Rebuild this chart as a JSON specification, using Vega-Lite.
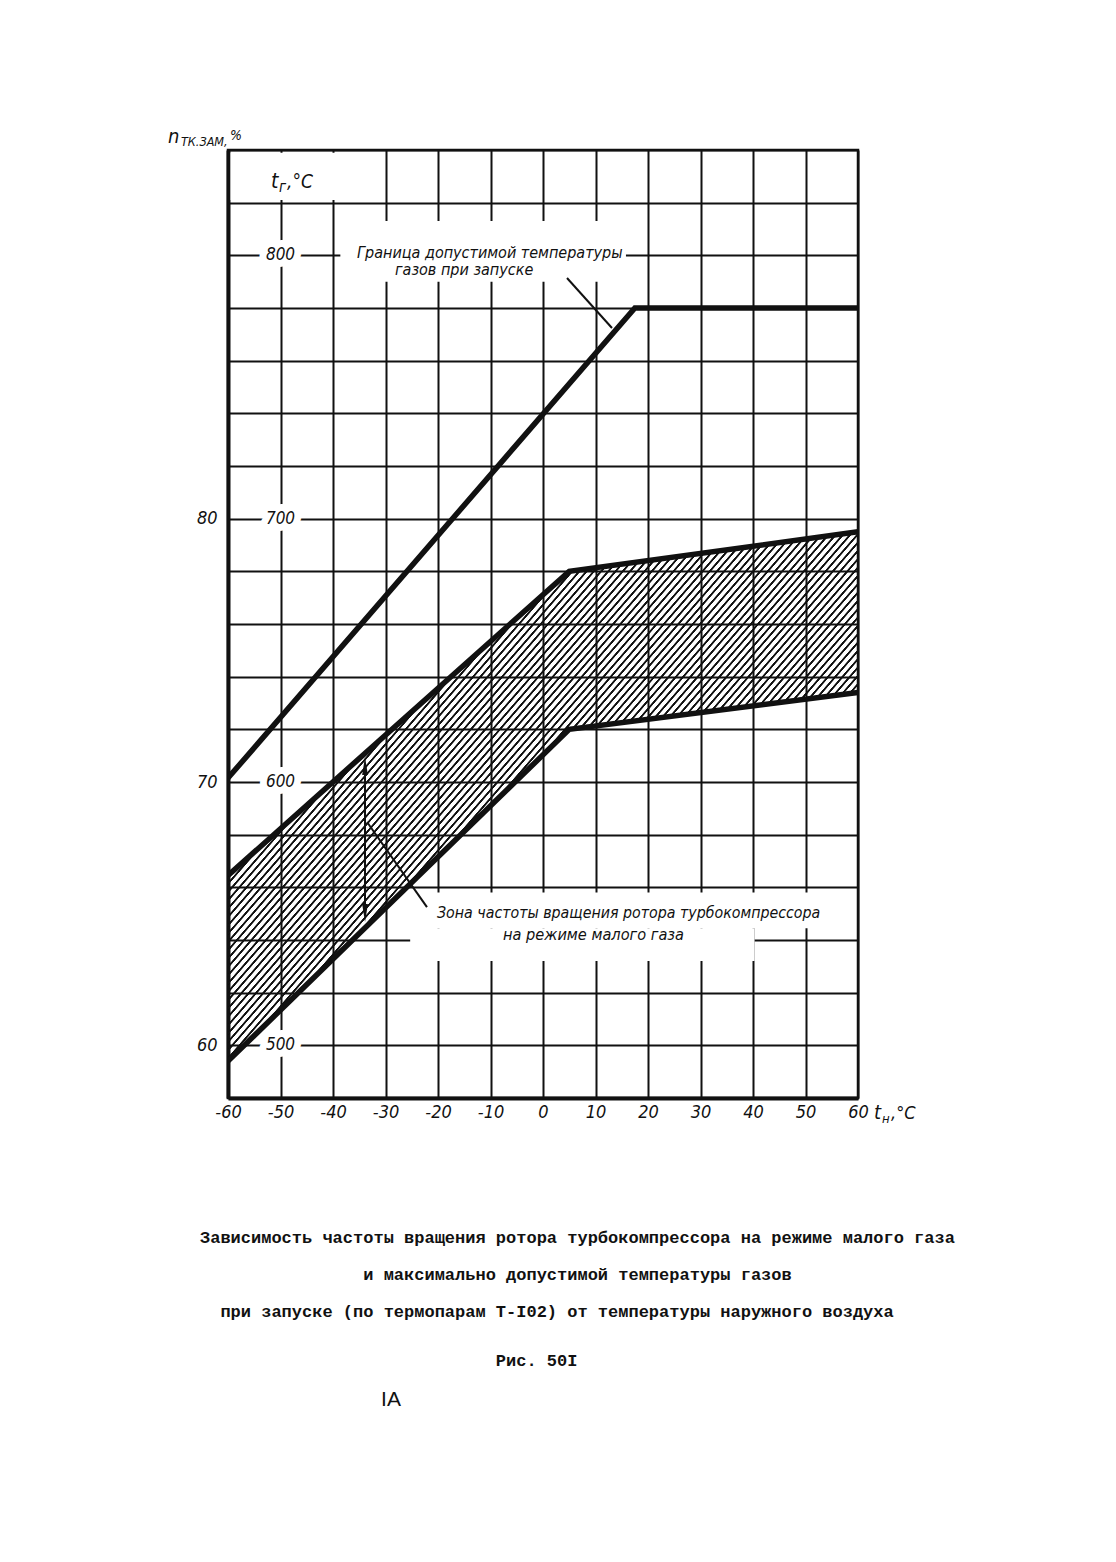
{
  "$schema": "https://vega.github.io/schema/vega-lite/v6.json",
  "width": 630,
  "height": 948,
  "autosize": {"type": "none"},
  "padding": {"left": 228, "top": 150, "right": 258, "bottom": 464},
  "background": "white",
  "title": {
    "text": [
      "Зависимость частоты вращения ротора турбокомпрессора на режиме малого газа",
      "\u200b\u00a0\u00a0\u00a0\u00a0\u00a0\u00a0\u00a0\u00a0\u00a0\u00a0\u00a0\u00a0\u00a0\u00a0\u00a0\u00a0и максимально допустимой температуры газов",
      "\u200b\u00a0\u00a0при запуске (по термопарам Т-I02) от температуры наружного воздуха"
    ],
    "subtitle": "\u200b\u00a0\u00a0\u00a0\u00a0\u00a0\u00a0\u00a0\u00a0\u00a0\u00a0\u00a0\u00a0\u00a0\u00a0\u00a0\u00a0\u00a0\u00a0\u00a0\u00a0\u00a0\u00a0\u00a0\u00a0\u00a0\u00a0\u00a0\u00a0\u00a0Рис. 50I",
    "orient": "bottom",
    "anchor": "start",
    "frame": "group",
    "align": "left",
    "baseline": "top",
    "offset": -180,
    "dx": -28,
    "font": "Liberation Mono",
    "fontSize": 17,
    "fontWeight": "bold",
    "lineHeight": 37,
    "color": "#111",
    "subtitleFont": "Liberation Mono",
    "subtitleFontSize": 17,
    "subtitleFontWeight": "bold",
    "subtitleColor": "#111",
    "subtitlePadding": 32
  },
  "datasets": {
    "zone": [
      {"t": -60, "lo": 59.4, "hi": 66.45},
      {"t": 5, "lo": 72, "hi": 78},
      {"t": 60, "lo": 73.4, "hi": 79.5}
    ],
    "lines": [
      {"curve": "gas", "t": -60, "n": 70.15},
      {"curve": "gas", "t": 17.5, "n": 88},
      {"curve": "gas", "t": 60, "n": 88},
      {"curve": "upper", "t": -60, "n": 66.45},
      {"curve": "upper", "t": 5, "n": 78},
      {"curve": "upper", "t": 60, "n": 79.5},
      {"curve": "lower", "t": -60, "n": 59.4},
      {"curve": "lower", "t": 5, "n": 72},
      {"curve": "lower", "t": 60, "n": 73.4}
    ],
    "tg": [{"tg": 500}, {"tg": 600}, {"tg": 700}, {"tg": 800}],
    "one": [{}]
  },
  "config": {
    "view": {"stroke": "#111", "strokeWidth": 2.5},
    "axis": {
      "grid": true,
      "gridColor": "#111",
      "gridWidth": 2,
      "gridOpacity": 1,
      "ticks": false,
      "domain": true,
      "domainColor": "#111",
      "domainWidth": 4,
      "labelFont": "DejaVu Sans Condensed",
      "labelFontStyle": "italic",
      "labelFontSize": 18,
      "labelColor": "#111",
      "labelFlush": false,
      "labelOverlap": false
    },
    "text": {"color": "#111", "font": "DejaVu Sans Condensed", "fontStyle": "italic"}
  },
  "layer": [
    {
      "layer": [
        {
          "data": {"name": "one"},
          "mark": {"type": "rect", "color": "white"},
          "encoding": {
            "x": {"datum": -59.5, "type": "quantitative"},
            "x2": {"datum": -30.5},
            "y": {"datum": 93.9, "type": "quantitative"},
            "y2": {"datum": 92.1}
          }
        },
        {
          "data": {"name": "one"},
          "mark": {"type": "rect", "color": "white"},
          "encoding": {
            "x": {"datum": -38.6, "type": "quantitative"},
            "x2": {"datum": 15.8},
            "y": {"datum": 91.3, "type": "quantitative"},
            "y2": {"datum": 89.0}
          }
        },
        {
          "data": {"name": "one"},
          "mark": {"type": "rect", "color": "white"},
          "encoding": {
            "x": {"datum": -25.3, "type": "quantitative"},
            "x2": {"datum": 58.5},
            "y": {"datum": 65.8, "type": "quantitative"},
            "y2": {"datum": 64.45}
          }
        },
        {
          "data": {"name": "one"},
          "mark": {"type": "rect", "color": "white"},
          "encoding": {
            "x": {"datum": -25.3, "type": "quantitative"},
            "x2": {"datum": 40.3},
            "y": {"datum": 64.45, "type": "quantitative"},
            "y2": {"datum": 63.2}
          }
        },
        {
          "data": {"name": "zone"},
          "mark": {
            "type": "area",
            "opacity": 1,
            "fill": {
              "gradient": "linear",
              "x1": 0, "y1": 0.5668, "x2": 0.7496, "y2": 1.1145,
              "stops": [
{"offset":0.05,"color":"rgba(0,0,0,0)"},{"offset":0.051,"color":"#111"},{"offset":0.0535,"color":"#111"},{"offset":0.0545,"color":"rgba(0,0,0,0)"},
{"offset":0.06,"color":"rgba(0,0,0,0)"},{"offset":0.061,"color":"#111"},{"offset":0.0635,"color":"#111"},{"offset":0.0645,"color":"rgba(0,0,0,0)"},
{"offset":0.07,"color":"rgba(0,0,0,0)"},{"offset":0.071,"color":"#111"},{"offset":0.0735,"color":"#111"},{"offset":0.0745,"color":"rgba(0,0,0,0)"},
{"offset":0.08,"color":"rgba(0,0,0,0)"},{"offset":0.081,"color":"#111"},{"offset":0.0835,"color":"#111"},{"offset":0.0845,"color":"rgba(0,0,0,0)"},
{"offset":0.09,"color":"rgba(0,0,0,0)"},{"offset":0.091,"color":"#111"},{"offset":0.0935,"color":"#111"},{"offset":0.0945,"color":"rgba(0,0,0,0)"},
{"offset":0.10,"color":"rgba(0,0,0,0)"},{"offset":0.101,"color":"#111"},{"offset":0.1035,"color":"#111"},{"offset":0.1045,"color":"rgba(0,0,0,0)"},
{"offset":0.11,"color":"rgba(0,0,0,0)"},{"offset":0.111,"color":"#111"},{"offset":0.1135,"color":"#111"},{"offset":0.1145,"color":"rgba(0,0,0,0)"},
{"offset":0.12,"color":"rgba(0,0,0,0)"},{"offset":0.121,"color":"#111"},{"offset":0.1235,"color":"#111"},{"offset":0.1245,"color":"rgba(0,0,0,0)"},
{"offset":0.13,"color":"rgba(0,0,0,0)"},{"offset":0.131,"color":"#111"},{"offset":0.1335,"color":"#111"},{"offset":0.1345,"color":"rgba(0,0,0,0)"},
{"offset":0.14,"color":"rgba(0,0,0,0)"},{"offset":0.141,"color":"#111"},{"offset":0.1435,"color":"#111"},{"offset":0.1445,"color":"rgba(0,0,0,0)"},
{"offset":0.15,"color":"rgba(0,0,0,0)"},{"offset":0.151,"color":"#111"},{"offset":0.1535,"color":"#111"},{"offset":0.1545,"color":"rgba(0,0,0,0)"},
{"offset":0.16,"color":"rgba(0,0,0,0)"},{"offset":0.161,"color":"#111"},{"offset":0.1635,"color":"#111"},{"offset":0.1645,"color":"rgba(0,0,0,0)"},
{"offset":0.17,"color":"rgba(0,0,0,0)"},{"offset":0.171,"color":"#111"},{"offset":0.1735,"color":"#111"},{"offset":0.1745,"color":"rgba(0,0,0,0)"},
{"offset":0.18,"color":"rgba(0,0,0,0)"},{"offset":0.181,"color":"#111"},{"offset":0.1835,"color":"#111"},{"offset":0.1845,"color":"rgba(0,0,0,0)"},
{"offset":0.19,"color":"rgba(0,0,0,0)"},{"offset":0.191,"color":"#111"},{"offset":0.1935,"color":"#111"},{"offset":0.1945,"color":"rgba(0,0,0,0)"},
{"offset":0.20,"color":"rgba(0,0,0,0)"},{"offset":0.201,"color":"#111"},{"offset":0.2035,"color":"#111"},{"offset":0.2045,"color":"rgba(0,0,0,0)"},
{"offset":0.21,"color":"rgba(0,0,0,0)"},{"offset":0.211,"color":"#111"},{"offset":0.2135,"color":"#111"},{"offset":0.2145,"color":"rgba(0,0,0,0)"},
{"offset":0.22,"color":"rgba(0,0,0,0)"},{"offset":0.221,"color":"#111"},{"offset":0.2235,"color":"#111"},{"offset":0.2245,"color":"rgba(0,0,0,0)"},
{"offset":0.23,"color":"rgba(0,0,0,0)"},{"offset":0.231,"color":"#111"},{"offset":0.2335,"color":"#111"},{"offset":0.2345,"color":"rgba(0,0,0,0)"},
{"offset":0.24,"color":"rgba(0,0,0,0)"},{"offset":0.241,"color":"#111"},{"offset":0.2435,"color":"#111"},{"offset":0.2445,"color":"rgba(0,0,0,0)"},
{"offset":0.25,"color":"rgba(0,0,0,0)"},{"offset":0.251,"color":"#111"},{"offset":0.2535,"color":"#111"},{"offset":0.2545,"color":"rgba(0,0,0,0)"},
{"offset":0.26,"color":"rgba(0,0,0,0)"},{"offset":0.261,"color":"#111"},{"offset":0.2635,"color":"#111"},{"offset":0.2645,"color":"rgba(0,0,0,0)"},
{"offset":0.27,"color":"rgba(0,0,0,0)"},{"offset":0.271,"color":"#111"},{"offset":0.2735,"color":"#111"},{"offset":0.2745,"color":"rgba(0,0,0,0)"},
{"offset":0.28,"color":"rgba(0,0,0,0)"},{"offset":0.281,"color":"#111"},{"offset":0.2835,"color":"#111"},{"offset":0.2845,"color":"rgba(0,0,0,0)"},
{"offset":0.29,"color":"rgba(0,0,0,0)"},{"offset":0.291,"color":"#111"},{"offset":0.2935,"color":"#111"},{"offset":0.2945,"color":"rgba(0,0,0,0)"},
{"offset":0.30,"color":"rgba(0,0,0,0)"},{"offset":0.301,"color":"#111"},{"offset":0.3035,"color":"#111"},{"offset":0.3045,"color":"rgba(0,0,0,0)"},
{"offset":0.31,"color":"rgba(0,0,0,0)"},{"offset":0.311,"color":"#111"},{"offset":0.3135,"color":"#111"},{"offset":0.3145,"color":"rgba(0,0,0,0)"},
{"offset":0.32,"color":"rgba(0,0,0,0)"},{"offset":0.321,"color":"#111"},{"offset":0.3235,"color":"#111"},{"offset":0.3245,"color":"rgba(0,0,0,0)"},
{"offset":0.33,"color":"rgba(0,0,0,0)"},{"offset":0.331,"color":"#111"},{"offset":0.3335,"color":"#111"},{"offset":0.3345,"color":"rgba(0,0,0,0)"},
{"offset":0.34,"color":"rgba(0,0,0,0)"},{"offset":0.341,"color":"#111"},{"offset":0.3435,"color":"#111"},{"offset":0.3445,"color":"rgba(0,0,0,0)"},
{"offset":0.35,"color":"rgba(0,0,0,0)"},{"offset":0.351,"color":"#111"},{"offset":0.3535,"color":"#111"},{"offset":0.3545,"color":"rgba(0,0,0,0)"},
{"offset":0.36,"color":"rgba(0,0,0,0)"},{"offset":0.361,"color":"#111"},{"offset":0.3635,"color":"#111"},{"offset":0.3645,"color":"rgba(0,0,0,0)"},
{"offset":0.37,"color":"rgba(0,0,0,0)"},{"offset":0.371,"color":"#111"},{"offset":0.3735,"color":"#111"},{"offset":0.3745,"color":"rgba(0,0,0,0)"},
{"offset":0.38,"color":"rgba(0,0,0,0)"},{"offset":0.381,"color":"#111"},{"offset":0.3835,"color":"#111"},{"offset":0.3845,"color":"rgba(0,0,0,0)"},
{"offset":0.39,"color":"rgba(0,0,0,0)"},{"offset":0.391,"color":"#111"},{"offset":0.3935,"color":"#111"},{"offset":0.3945,"color":"rgba(0,0,0,0)"},
{"offset":0.40,"color":"rgba(0,0,0,0)"},{"offset":0.401,"color":"#111"},{"offset":0.4035,"color":"#111"},{"offset":0.4045,"color":"rgba(0,0,0,0)"},
{"offset":0.41,"color":"rgba(0,0,0,0)"},{"offset":0.411,"color":"#111"},{"offset":0.4135,"color":"#111"},{"offset":0.4145,"color":"rgba(0,0,0,0)"},
{"offset":0.42,"color":"rgba(0,0,0,0)"},{"offset":0.421,"color":"#111"},{"offset":0.4235,"color":"#111"},{"offset":0.4245,"color":"rgba(0,0,0,0)"},
{"offset":0.43,"color":"rgba(0,0,0,0)"},{"offset":0.431,"color":"#111"},{"offset":0.4335,"color":"#111"},{"offset":0.4345,"color":"rgba(0,0,0,0)"},
{"offset":0.44,"color":"rgba(0,0,0,0)"},{"offset":0.441,"color":"#111"},{"offset":0.4435,"color":"#111"},{"offset":0.4445,"color":"rgba(0,0,0,0)"},
{"offset":0.45,"color":"rgba(0,0,0,0)"},{"offset":0.451,"color":"#111"},{"offset":0.4535,"color":"#111"},{"offset":0.4545,"color":"rgba(0,0,0,0)"},
{"offset":0.46,"color":"rgba(0,0,0,0)"},{"offset":0.461,"color":"#111"},{"offset":0.4635,"color":"#111"},{"offset":0.4645,"color":"rgba(0,0,0,0)"},
{"offset":0.47,"color":"rgba(0,0,0,0)"},{"offset":0.471,"color":"#111"},{"offset":0.4735,"color":"#111"},{"offset":0.4745,"color":"rgba(0,0,0,0)"},
{"offset":0.48,"color":"rgba(0,0,0,0)"},{"offset":0.481,"color":"#111"},{"offset":0.4835,"color":"#111"},{"offset":0.4845,"color":"rgba(0,0,0,0)"},
{"offset":0.49,"color":"rgba(0,0,0,0)"},{"offset":0.491,"color":"#111"},{"offset":0.4935,"color":"#111"},{"offset":0.4945,"color":"rgba(0,0,0,0)"},
{"offset":0.50,"color":"rgba(0,0,0,0)"},{"offset":0.501,"color":"#111"},{"offset":0.5035,"color":"#111"},{"offset":0.5045,"color":"rgba(0,0,0,0)"},
{"offset":0.51,"color":"rgba(0,0,0,0)"},{"offset":0.511,"color":"#111"},{"offset":0.5135,"color":"#111"},{"offset":0.5145,"color":"rgba(0,0,0,0)"},
{"offset":0.52,"color":"rgba(0,0,0,0)"},{"offset":0.521,"color":"#111"},{"offset":0.5235,"color":"#111"},{"offset":0.5245,"color":"rgba(0,0,0,0)"},
{"offset":0.53,"color":"rgba(0,0,0,0)"},{"offset":0.531,"color":"#111"},{"offset":0.5335,"color":"#111"},{"offset":0.5345,"color":"rgba(0,0,0,0)"},
{"offset":0.54,"color":"rgba(0,0,0,0)"},{"offset":0.541,"color":"#111"},{"offset":0.5435,"color":"#111"},{"offset":0.5445,"color":"rgba(0,0,0,0)"},
{"offset":0.55,"color":"rgba(0,0,0,0)"},{"offset":0.551,"color":"#111"},{"offset":0.5535,"color":"#111"},{"offset":0.5545,"color":"rgba(0,0,0,0)"},
{"offset":0.56,"color":"rgba(0,0,0,0)"},{"offset":0.561,"color":"#111"},{"offset":0.5635,"color":"#111"},{"offset":0.5645,"color":"rgba(0,0,0,0)"},
{"offset":0.57,"color":"rgba(0,0,0,0)"},{"offset":0.571,"color":"#111"},{"offset":0.5735,"color":"#111"},{"offset":0.5745,"color":"rgba(0,0,0,0)"},
{"offset":0.58,"color":"rgba(0,0,0,0)"},{"offset":0.581,"color":"#111"},{"offset":0.5835,"color":"#111"},{"offset":0.5845,"color":"rgba(0,0,0,0)"},
{"offset":0.59,"color":"rgba(0,0,0,0)"},{"offset":0.591,"color":"#111"},{"offset":0.5935,"color":"#111"},{"offset":0.5945,"color":"rgba(0,0,0,0)"},
{"offset":0.60,"color":"rgba(0,0,0,0)"},{"offset":0.601,"color":"#111"},{"offset":0.6035,"color":"#111"},{"offset":0.6045,"color":"rgba(0,0,0,0)"},
{"offset":0.61,"color":"rgba(0,0,0,0)"},{"offset":0.611,"color":"#111"},{"offset":0.6135,"color":"#111"},{"offset":0.6145,"color":"rgba(0,0,0,0)"},
{"offset":0.62,"color":"rgba(0,0,0,0)"},{"offset":0.621,"color":"#111"},{"offset":0.6235,"color":"#111"},{"offset":0.6245,"color":"rgba(0,0,0,0)"},
{"offset":0.63,"color":"rgba(0,0,0,0)"},{"offset":0.631,"color":"#111"},{"offset":0.6335,"color":"#111"},{"offset":0.6345,"color":"rgba(0,0,0,0)"},
{"offset":0.64,"color":"rgba(0,0,0,0)"},{"offset":0.641,"color":"#111"},{"offset":0.6435,"color":"#111"},{"offset":0.6445,"color":"rgba(0,0,0,0)"},
{"offset":0.65,"color":"rgba(0,0,0,0)"},{"offset":0.651,"color":"#111"},{"offset":0.6535,"color":"#111"},{"offset":0.6545,"color":"rgba(0,0,0,0)"},
{"offset":0.66,"color":"rgba(0,0,0,0)"},{"offset":0.661,"color":"#111"},{"offset":0.6635,"color":"#111"},{"offset":0.6645,"color":"rgba(0,0,0,0)"},
{"offset":0.67,"color":"rgba(0,0,0,0)"},{"offset":0.671,"color":"#111"},{"offset":0.6735,"color":"#111"},{"offset":0.6745,"color":"rgba(0,0,0,0)"},
{"offset":0.68,"color":"rgba(0,0,0,0)"},{"offset":0.681,"color":"#111"},{"offset":0.6835,"color":"#111"},{"offset":0.6845,"color":"rgba(0,0,0,0)"},
{"offset":0.69,"color":"rgba(0,0,0,0)"},{"offset":0.691,"color":"#111"},{"offset":0.6935,"color":"#111"},{"offset":0.6945,"color":"rgba(0,0,0,0)"},
{"offset":0.70,"color":"rgba(0,0,0,0)"},{"offset":0.701,"color":"#111"},{"offset":0.7035,"color":"#111"},{"offset":0.7045,"color":"rgba(0,0,0,0)"}
              ]
            }
          },
          "encoding": {
            "x": {"field": "t", "type": "quantitative"},
            "y": {"field": "lo", "type": "quantitative"},
            "y2": {"field": "hi"}
          }
        },
        {
          "data": {"name": "lines"},
          "mark": {"type": "line", "color": "#111", "strokeWidth": 5.5, "clip": true, "strokeJoin": "miter"},
          "encoding": {
            "x": {
              "field": "t", "type": "quantitative",
              "scale": {"domain": [-60, 60], "nice": false, "zero": false},
              "axis": {"values": [-60, -50, -40, -30, -20, -10, 0, 10, 20, 30, 40, 50, 60], "labelExpr": "'' + datum.value", "labelPadding": 5, "title": null}
            },
            "y": {
              "field": "n", "type": "quantitative",
              "scale": {"domain": [58, 94], "nice": false, "zero": false},
              "axis": {"values": [58, 60, 62, 64, 66, 68, 70, 72, 74, 76, 78, 80, 82, 84, 86, 88, 90, 92, 94], "labelExpr": "(datum.value == 60 || datum.value == 70 || datum.value == 80) ? '' + datum.value : ''", "labelPadding": 11, "title": null}
            },
            "detail": {"field": "curve"}
          }
        },
        {
          "data": {"name": "one"},
          "mark": {"type": "rule", "color": "#111", "strokeWidth": 2},
          "encoding": {
            "x": {"datum": -33.9, "type": "quantitative"},
            "y": {"datum": 70.6, "type": "quantitative"},
            "y2": {"datum": 65.0}
          }
        },
        {
          "data": {"name": "one"},
          "mark": {"type": "point", "shape": "M0,-1L0.32,1L-0.32,1Z", "filled": true, "color": "#111", "size": 324, "opacity": 1},
          "encoding": {
            "x": {"datum": -33.9, "type": "quantitative"},
            "y": {"datum": 70.61, "type": "quantitative"}
          }
        },
        {
          "data": {"name": "one"},
          "mark": {"type": "point", "shape": "M0,1L0.32,-1L-0.32,-1Z", "filled": true, "color": "#111", "size": 324, "opacity": 1},
          "encoding": {
            "x": {"datum": -33.9, "type": "quantitative"},
            "y": {"datum": 65.03, "type": "quantitative"}
          }
        },
        {
          "data": {"name": "one"},
          "mark": {"type": "rule", "color": "#111", "strokeWidth": 2},
          "encoding": {
            "x": {"datum": 4.57, "type": "quantitative"},
            "y": {"datum": 89.14, "type": "quantitative"},
            "x2": {"datum": 13.14},
            "y2": {"datum": 87.24}
          }
        },
        {
          "data": {"name": "one"},
          "mark": {"type": "rule", "color": "#111", "strokeWidth": 2},
          "encoding": {
            "x": {"datum": -33.52, "type": "quantitative"},
            "y": {"datum": 68.48, "type": "quantitative"},
            "x2": {"datum": -22.1},
            "y2": {"datum": 65.25}
          }
        },
        {
          "data": {"name": "one"},
          "mark": {"type": "text", "align": "left", "baseline": "middle", "fontSize": 16, "text": "Граница допустимой температуры"},
          "encoding": {
            "x": {"datum": -35.43, "type": "quantitative"},
            "y": {"datum": 90.09, "type": "quantitative"}
          }
        },
        {
          "data": {"name": "one"},
          "mark": {"type": "text", "align": "left", "baseline": "middle", "fontSize": 16, "text": "газов при запуске"},
          "encoding": {
            "x": {"datum": -28.19, "type": "quantitative"},
            "y": {"datum": 89.44, "type": "quantitative"}
          }
        },
        {
          "data": {"name": "one"},
          "mark": {"type": "text", "align": "left", "baseline": "middle", "fontSize": 15.8, "text": "Зона частоты вращения ротора турбокомпрессора"},
          "encoding": {
            "x": {"datum": -20.19, "type": "quantitative"},
            "y": {"datum": 65.04, "type": "quantitative"}
          }
        },
        {
          "data": {"name": "one"},
          "mark": {"type": "text", "align": "left", "baseline": "middle", "fontSize": 16.2, "text": "на режиме малого газа"},
          "encoding": {
            "x": {"datum": -7.62, "type": "quantitative"},
            "y": {"datum": 64.19, "type": "quantitative"}
          }
        },
        {
          "data": {"name": "one"},
          "mark": {"type": "text", "align": "left", "baseline": "alphabetic", "fontSize": 20, "dx": -60, "dy": -7, "text": "n"},
          "encoding": {
            "x": {"datum": -60, "type": "quantitative"},
            "y": {"datum": 94, "type": "quantitative"}
          }
        },
        {
          "data": {"name": "one"},
          "mark": {"type": "text", "align": "left", "baseline": "alphabetic", "fontSize": 12.5, "dx": -47, "dy": -4, "text": "ТК.ЗАМ,"},
          "encoding": {
            "x": {"datum": -60, "type": "quantitative"},
            "y": {"datum": 94, "type": "quantitative"}
          }
        },
        {
          "data": {"name": "one"},
          "mark": {"type": "text", "align": "left", "baseline": "alphabetic", "fontSize": 14, "dx": 2, "dy": -10, "text": "%"},
          "encoding": {
            "x": {"datum": -60, "type": "quantitative"},
            "y": {"datum": 94, "type": "quantitative"}
          }
        },
        {
          "data": {"name": "one"},
          "mark": {"type": "text", "align": "left", "baseline": "alphabetic", "fontSize": 21, "dx": 43, "dy": 12, "text": "t"},
          "encoding": {
            "x": {"datum": -60, "type": "quantitative"},
            "y": {"datum": 93, "type": "quantitative"}
          }
        },
        {
          "data": {"name": "one"},
          "mark": {"type": "text", "align": "left", "baseline": "alphabetic", "fontSize": 15, "dx": 51, "dy": 16, "text": "г"},
          "encoding": {
            "x": {"datum": -60, "type": "quantitative"},
            "y": {"datum": 93, "type": "quantitative"}
          }
        },
        {
          "data": {"name": "one"},
          "mark": {"type": "text", "align": "left", "baseline": "alphabetic", "fontSize": 19, "dx": 59, "dy": 12, "text": ",°C"},
          "encoding": {
            "x": {"datum": -60, "type": "quantitative"},
            "y": {"datum": 93, "type": "quantitative"}
          }
        },
        {
          "data": {"name": "one"},
          "mark": {"type": "text", "align": "left", "baseline": "alphabetic", "fontSize": 20, "dx": 16, "dy": 21, "text": "t"},
          "encoding": {
            "x": {"datum": 60, "type": "quantitative"},
            "y": {"datum": 58, "type": "quantitative"}
          }
        },
        {
          "data": {"name": "one"},
          "mark": {"type": "text", "align": "left", "baseline": "alphabetic", "fontSize": 13, "dx": 24, "dy": 25, "text": "н"},
          "encoding": {
            "x": {"datum": 60, "type": "quantitative"},
            "y": {"datum": 58, "type": "quantitative"}
          }
        },
        {
          "data": {"name": "one"},
          "mark": {"type": "text", "align": "left", "baseline": "alphabetic", "fontSize": 18, "dx": 33, "dy": 21, "text": ",°C"},
          "encoding": {
            "x": {"datum": 60, "type": "quantitative"},
            "y": {"datum": 58, "type": "quantitative"}
          }
        },
        {
          "data": {"name": "one"},
          "mark": {"type": "text", "align": "center", "baseline": "middle", "fontSize": 21, "font": "Liberation Sans", "fontStyle": "normal", "text": "IA"},
          "encoding": {
            "x": {"datum": -28.95, "type": "quantitative"},
            "y": {"datum": 46.53, "type": "quantitative"}
          }
        }
      ]
    },
    {
      "data": {"name": "tg"},
      "encoding": {
        "x": {"datum": -50, "type": "quantitative"},
        "y": {"field": "tg", "type": "quantitative", "scale": {"domain": [480, 840], "nice": false, "zero": false}, "axis": null},
        "text": {"field": "tg", "type": "quantitative", "format": "d"}
      },
      "layer": [
        {
          "mark": {"type": "text", "align": "center", "baseline": "middle", "fontSize": 17, "fill": "white", "stroke": "white", "strokeWidth": 14, "strokeJoin": "round"}
        },
        {
          "mark": {"type": "text", "align": "center", "baseline": "middle", "fontSize": 17, "color": "#111"}
        }
      ]
    }
  ],
  "resolve": {"scale": {"y": "independent"}}
}
